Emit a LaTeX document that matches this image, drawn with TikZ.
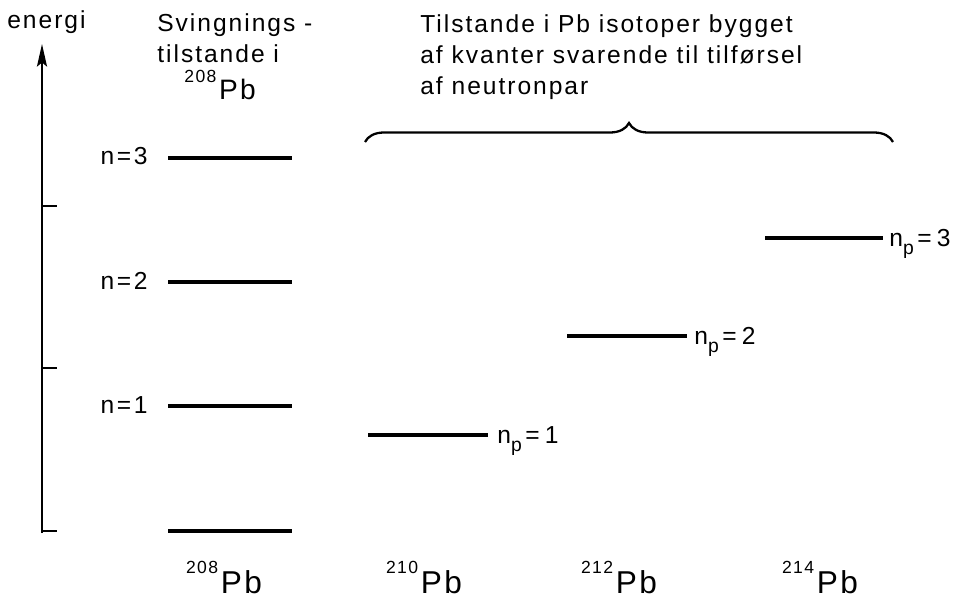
\documentclass[tikz,border=0pt]{standalone}
\usepackage{fontspec}
\setmainfont[LetterSpace=8]{Liberation Sans}
\usetikzlibrary{positioning, arrows.meta, decorations.pathreplacing}

\newcommand{\nuc}[2]{\raisebox{0.62em}{\fontsize{10}{12}\selectfont #1}\kern1.5pt#2}
\newcommand{\npl}[1]{n\raisebox{-0.34em}{\fontsize{11}{12}\selectfont p}\kern2pt=\kern3pt#1}

\begin{document}
\begin{tikzpicture}[
    x=0.02cm, y=-0.02cm,
    font=\fontsize{14}{17.9}\selectfont,
    >={Stealth[length=0.45cm, width=0.2cm, inset=0.08cm]},
    txt/.style={inner sep=0pt, anchor=base west},
    lbl/.style={inner sep=0pt, anchor=base east},
    lvl/.style={line width=1.8pt},
    tick/.style={line width=1.2pt},
    pb/.style={inner sep=0pt, anchor=base, font=\fontsize{18}{20}\selectfont}
]
\useasboundingbox (0,0) rectangle (972,601);

% energy axis
\coordinate (axisBot) at (42,533);
\coordinate (axisTop) at (42,44);
\draw[->, line width=1.3pt] (axisBot) -- (axisTop);
\foreach \y in {206,368,531}
    \draw[tick] (42,\y) -- ++(15,0);

% headings (base = last line)
\node[txt] (energi) at (7,29) {energi};
\node[txt, align=left] (svTitle) at (157,63) {Svingnings -\\tilstande i};
\node[txt, font=\fontsize{16}{18}\selectfont] (svPb) at (184,100) {\nuc{208}{Pb}};
\node[txt, align=left] (pbTitle) at (420,95) {Tilstande i Pb isotoper bygget\\af kvanter svarende til tilførsel\\af neutronpar};

\draw[decorate, decoration={brace, amplitude=0.38cm}, line width=1.3pt] (365,142) -- (893,142);

% vibrational states in 208Pb
\foreach \y/\n in {158/3, 282/2, 406/1} {
    \draw[lvl] (168,\y) -- (292,\y);
    \node[lbl] (nLab\n) at (148,\y+7) {n\kern1.5pt=\kern1.5pt\n};
}
\draw[lvl] (168,531) -- (292,531);

% neutron pair states
\draw[lvl] (368,435) -- (488,435) coordinate (endA);
\node[txt] (npA) at (497,443) {\npl{1}};
\draw[lvl] (567,336) -- (687,336) coordinate (endB);
\node[txt] (npB) at (694,344) {\npl{2}};
\draw[lvl] (765,238) -- (883,238) coordinate (endC);
\node[txt] (npC) at (889,246) {\npl{3}};

% isotope labels
\node[pb] (pb208) at (224,593) {\nuc{208}{Pb}};
\node[pb] (pb210) at (424,593) {\nuc{210}{Pb}};
\node[pb] (pb212) at (619,593) {\nuc{212}{Pb}};
\node[pb] (pb214) at (820,593) {\nuc{214}{Pb}};

\end{tikzpicture}
\end{document}
